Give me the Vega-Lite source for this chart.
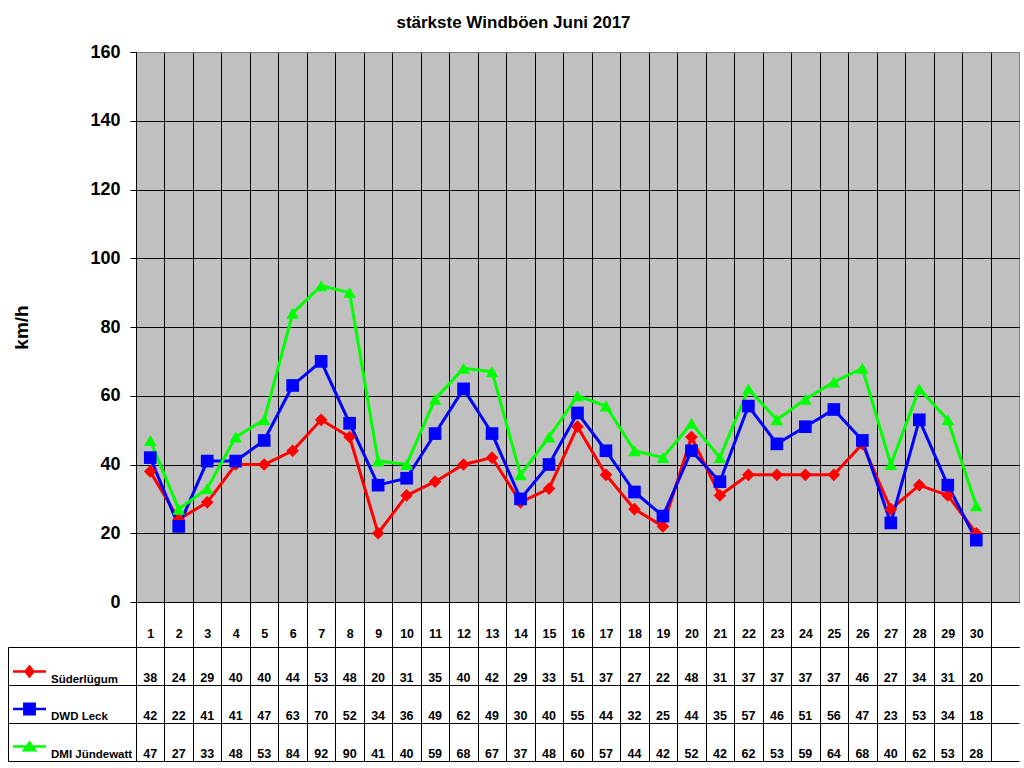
{
  "$schema": "https://vega.github.io/schema/vega-lite/v6.json",
  "background": "white",
  "padding": {"left": 7, "top": 13, "right": 6, "bottom": 0},
  "title": {"text": "stärkste Windböen Juni 2017", "fontSize": 17, "fontWeight": "bold", "color": "black", "anchor": "middle", "offset": 11},
  "config": {
    "font": "Liberation Sans",
    "view": {"stroke": null},
    "axis": {"labelColor": "black", "titleColor": "black", "domainColor": "black", "tickColor": "black", "gridColor": "black", "gridOpacity": 1, "domainWidth": 1, "tickWidth": 1, "gridWidth": 1}
  },
  "data": {
    "values": [
      {"day": 1, "station": "Süderlügum", "kmh": 38}, {"day": 2, "station": "Süderlügum", "kmh": 24}, {"day": 3, "station": "Süderlügum", "kmh": 29},
      {"day": 4, "station": "Süderlügum", "kmh": 40}, {"day": 5, "station": "Süderlügum", "kmh": 40}, {"day": 6, "station": "Süderlügum", "kmh": 44},
      {"day": 7, "station": "Süderlügum", "kmh": 53}, {"day": 8, "station": "Süderlügum", "kmh": 48}, {"day": 9, "station": "Süderlügum", "kmh": 20},
      {"day": 10, "station": "Süderlügum", "kmh": 31}, {"day": 11, "station": "Süderlügum", "kmh": 35}, {"day": 12, "station": "Süderlügum", "kmh": 40},
      {"day": 13, "station": "Süderlügum", "kmh": 42}, {"day": 14, "station": "Süderlügum", "kmh": 29}, {"day": 15, "station": "Süderlügum", "kmh": 33},
      {"day": 16, "station": "Süderlügum", "kmh": 51}, {"day": 17, "station": "Süderlügum", "kmh": 37}, {"day": 18, "station": "Süderlügum", "kmh": 27},
      {"day": 19, "station": "Süderlügum", "kmh": 22}, {"day": 20, "station": "Süderlügum", "kmh": 48}, {"day": 21, "station": "Süderlügum", "kmh": 31},
      {"day": 22, "station": "Süderlügum", "kmh": 37}, {"day": 23, "station": "Süderlügum", "kmh": 37}, {"day": 24, "station": "Süderlügum", "kmh": 37},
      {"day": 25, "station": "Süderlügum", "kmh": 37}, {"day": 26, "station": "Süderlügum", "kmh": 46}, {"day": 27, "station": "Süderlügum", "kmh": 27},
      {"day": 28, "station": "Süderlügum", "kmh": 34}, {"day": 29, "station": "Süderlügum", "kmh": 31}, {"day": 30, "station": "Süderlügum", "kmh": 20},
      {"day": 1, "station": "DWD Leck", "kmh": 42}, {"day": 2, "station": "DWD Leck", "kmh": 22}, {"day": 3, "station": "DWD Leck", "kmh": 41},
      {"day": 4, "station": "DWD Leck", "kmh": 41}, {"day": 5, "station": "DWD Leck", "kmh": 47}, {"day": 6, "station": "DWD Leck", "kmh": 63},
      {"day": 7, "station": "DWD Leck", "kmh": 70}, {"day": 8, "station": "DWD Leck", "kmh": 52}, {"day": 9, "station": "DWD Leck", "kmh": 34},
      {"day": 10, "station": "DWD Leck", "kmh": 36}, {"day": 11, "station": "DWD Leck", "kmh": 49}, {"day": 12, "station": "DWD Leck", "kmh": 62},
      {"day": 13, "station": "DWD Leck", "kmh": 49}, {"day": 14, "station": "DWD Leck", "kmh": 30}, {"day": 15, "station": "DWD Leck", "kmh": 40},
      {"day": 16, "station": "DWD Leck", "kmh": 55}, {"day": 17, "station": "DWD Leck", "kmh": 44}, {"day": 18, "station": "DWD Leck", "kmh": 32},
      {"day": 19, "station": "DWD Leck", "kmh": 25}, {"day": 20, "station": "DWD Leck", "kmh": 44}, {"day": 21, "station": "DWD Leck", "kmh": 35},
      {"day": 22, "station": "DWD Leck", "kmh": 57}, {"day": 23, "station": "DWD Leck", "kmh": 46}, {"day": 24, "station": "DWD Leck", "kmh": 51},
      {"day": 25, "station": "DWD Leck", "kmh": 56}, {"day": 26, "station": "DWD Leck", "kmh": 47}, {"day": 27, "station": "DWD Leck", "kmh": 23},
      {"day": 28, "station": "DWD Leck", "kmh": 53}, {"day": 29, "station": "DWD Leck", "kmh": 34}, {"day": 30, "station": "DWD Leck", "kmh": 18},
      {"day": 1, "station": "DMI Jündewatt", "kmh": 47}, {"day": 2, "station": "DMI Jündewatt", "kmh": 27}, {"day": 3, "station": "DMI Jündewatt", "kmh": 33},
      {"day": 4, "station": "DMI Jündewatt", "kmh": 48}, {"day": 5, "station": "DMI Jündewatt", "kmh": 53}, {"day": 6, "station": "DMI Jündewatt", "kmh": 84},
      {"day": 7, "station": "DMI Jündewatt", "kmh": 92}, {"day": 8, "station": "DMI Jündewatt", "kmh": 90}, {"day": 9, "station": "DMI Jündewatt", "kmh": 41},
      {"day": 10, "station": "DMI Jündewatt", "kmh": 40}, {"day": 11, "station": "DMI Jündewatt", "kmh": 59}, {"day": 12, "station": "DMI Jündewatt", "kmh": 68},
      {"day": 13, "station": "DMI Jündewatt", "kmh": 67}, {"day": 14, "station": "DMI Jündewatt", "kmh": 37}, {"day": 15, "station": "DMI Jündewatt", "kmh": 48},
      {"day": 16, "station": "DMI Jündewatt", "kmh": 60}, {"day": 17, "station": "DMI Jündewatt", "kmh": 57}, {"day": 18, "station": "DMI Jündewatt", "kmh": 44},
      {"day": 19, "station": "DMI Jündewatt", "kmh": 42}, {"day": 20, "station": "DMI Jündewatt", "kmh": 52}, {"day": 21, "station": "DMI Jündewatt", "kmh": 42},
      {"day": 22, "station": "DMI Jündewatt", "kmh": 62}, {"day": 23, "station": "DMI Jündewatt", "kmh": 53}, {"day": 24, "station": "DMI Jündewatt", "kmh": 59},
      {"day": 25, "station": "DMI Jündewatt", "kmh": 64}, {"day": 26, "station": "DMI Jündewatt", "kmh": 68}, {"day": 27, "station": "DMI Jündewatt", "kmh": 40},
      {"day": 28, "station": "DMI Jündewatt", "kmh": 62}, {"day": 29, "station": "DMI Jündewatt", "kmh": 53}, {"day": 30, "station": "DMI Jündewatt", "kmh": 28}
    ]
  },
  "bounds": "flush",
  "spacing": 45,
  "resolve": {"scale": {"color": "independent", "shape": "independent"}, "legend": {"color": "independent", "shape": "independent"}},
  "vconcat": [
    {
      "width": 883,
      "height": 550,
      "view": {"fill": "#c0c0c0", "stroke": "#808080"},
      "encoding": {
        "x": {
          "field": "day", "type": "ordinal",
          "scale": {"type": "band", "domain": [1,2,3,4,5,6,7,8,9,10,11,12,13,14,15,16,17,18,19,20,21,22,23,24,25,26,27,28,29,30,31], "paddingInner": 0, "paddingOuter": 0},
          "axis": {"title": null, "values": [1,2,3,4,5,6,7,8,9,10,11,12,13,14,15,16,17,18,19,20,21,22,23,24,25,26,27,28,29,30], "tickBand": "extent", "tickSize": 45, "grid": true, "labelAngle": 0, "labelFontSize": 12.5, "labelFontWeight": "bold", "labelPadding": -20}
        },
        "y": {
          "field": "kmh", "type": "quantitative",
          "scale": {"domain": [0, 160], "nice": false},
          "axis": {"title": "km/h", "values": [0,20,40,60,80,100,120,140,160], "grid": true, "gridColor": {"condition": {"test": "datum.value === 160", "value": "#808080"}, "value": "black"}, "tickSize": 6, "labelFontSize": 18, "labelFontWeight": "bold", "labelPadding": 10, "titleFontSize": 19, "titleFontWeight": "bold", "titlePadding": 58}
        },
        "color": {"field": "station", "type": "nominal", "scale": {"domain": ["Süderlügum", "DWD Leck", "DMI Jündewatt"], "range": ["#ff0000", "#0000ff", "#00ff00"]}, "legend": null}
      },
      "layer": [
        {"mark": {"type": "line", "strokeWidth": 3}},
        {
          "mark": {"type": "point", "filled": true, "opacity": 1, "size": 160},
          "encoding": {"shape": {"field": "station", "type": "nominal", "scale": {"domain": ["Süderlügum", "DWD Leck", "DMI Jündewatt"], "range": ["diamond", "square", "triangle-up"]}, "legend": null}}
        }
      ]
    },
    {
      "width": 883,
      "height": 114,
      "encoding": {
        "x": {
          "field": "day", "type": "ordinal",
          "scale": {"type": "band", "domain": [1,2,3,4,5,6,7,8,9,10,11,12,13,14,15,16,17,18,19,20,21,22,23,24,25,26,27,28,29,30,31], "paddingInner": 0, "paddingOuter": 0},
          "axis": {"title": null, "orient": "top", "values": [1,2,3,4,5,6,7,8,9,10,11,12,13,14,15,16,17,18,19,20,21,22,23,24,25,26,27,28,29,30], "tickBand": "extent", "labels": false, "ticks": false, "domain": true, "grid": true}
        },
        "y": {
          "field": "station", "type": "nominal",
          "scale": {"domain": ["Süderlügum", "DWD Leck", "DMI Jündewatt"], "paddingInner": 0, "paddingOuter": 0},
          "axis": {"title": null, "labels": false, "tickBand": "extent", "tickSize": -128, "offset": 128, "grid": true}
        }
      },
      "layer": [
        {
          "mark": {"type": "text", "fontSize": 12.5, "fontWeight": "bold", "color": "black", "baseline": "middle", "dy": 12},
          "encoding": {"text": {"field": "kmh", "type": "quantitative"}}
        },
        {
          "transform": [{"filter": "false"}],
          "mark": {"type": "point", "filled": true, "opacity": 1},
          "encoding": {
            "color": {
              "field": "station", "type": "nominal",
              "scale": {"domain": ["Süderlügum", "DWD Leck", "DMI Jündewatt"], "range": ["#ff0000", "#0000ff", "#00ff00"]},
              "legend": {"orient": "none", "legendX": -123, "legendY": 8, "title": null, "symbolSize": 1089, "symbolStrokeWidth": 0, "symbolOpacity": 1, "labelFontSize": 11.5, "labelFontWeight": "bold", "labelColor": "black", "labelOffset": 5, "rowPadding": 7.5, "padding": 0, "labelLimit": 200, "encode": {"labels": {"update": {"dy": {"value": 8}}}}}
            },
            "shape": {
              "field": "station", "type": "nominal",
              "scale": {"domain": ["Süderlügum", "DWD Leck", "DMI Jündewatt"], "range": ["M-1,-0.08H1V0.08H-1Z M0,-0.42L0.33,0L0,0.42L-0.33,0Z", "M-1,-0.08H1V0.08H-1Z M-0.39,-0.39H0.39V0.39H-0.39Z", "M-1,-0.08H1V0.08H-1Z M0,-0.36L0.48,0.3H-0.48Z"]},
              "legend": {"orient": "none", "legendX": -123, "legendY": 8, "title": null, "symbolSize": 1089, "symbolStrokeWidth": 0, "symbolOpacity": 1, "labelFontSize": 11.5, "labelFontWeight": "bold", "labelColor": "black", "labelOffset": 5, "rowPadding": 7.5, "padding": 0, "labelLimit": 200, "encode": {"labels": {"update": {"dy": {"value": 8}}}}}
            }
          }
        }
      ]
    }
  ]
}
